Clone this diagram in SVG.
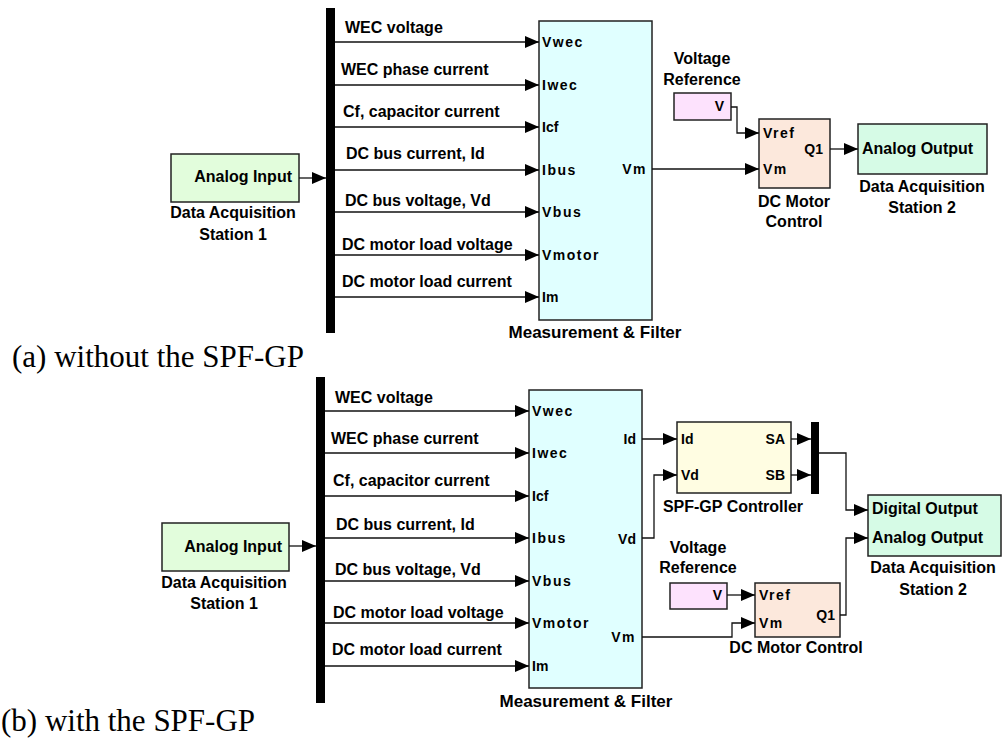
<svg xmlns="http://www.w3.org/2000/svg" width="1002" height="745" viewBox="0 0 1002 745">
  <defs>
    <marker id="arrow" markerUnits="userSpaceOnUse" markerWidth="15" markerHeight="13" refX="14" refY="6" orient="auto">
      <path d="M0,0 L14,6 L0,12 z" fill="#000"/>
    </marker>
    <style>
      .blk { stroke: #222; stroke-width: 1.5; }
      .bar { fill: #000; }
      .din { fill: #E2FDDC; }
      .dout { fill: #D6FBE6; }
      .meas { fill: #E0FFFF; }
      .vref { fill: #FDE2FD; }
      .motor { fill: #FCE8DC; }
      .spf { fill: #FFFDE2; }
      .wire { fill: none; stroke: #111; stroke-width: 1.3; }
      .arr { marker-end: url(#arrow); }
      text { font-family: "Liberation Sans", Arial, sans-serif; font-weight: bold; fill: #000; }
      .lbl { font-size: 16px; }
      .cap { font-size: 16px; text-anchor: middle; }
      .port { font-size: 14px; }
      .sp { letter-spacing: 1.5px; }
      .end { text-anchor: end; }
      .title { font-family: "Liberation Serif", "Times New Roman", serif; font-weight: normal; font-size: 31px; }
    </style>
  </defs>

  <!-- ===== (a) without the SPF-GP ===== -->
  <g id="a-daq1">
    <rect class="blk din" x="171" y="154" width="128" height="48"/>
    <text class="lbl end" x="292" y="182">Analog Input</text>
    <text class="cap" x="233" y="218">Data Acquisition</text>
    <text class="cap" x="233" y="240">Station 1</text>
  </g>
  <g id="a-bus">
    <rect class="bar" x="326" y="8" width="9" height="325"/>
  </g>
  <g id="a-meas">
    <rect class="blk meas" x="539" y="21" width="113" height="299"/>
    <text class="port sp" x="542" y="47">Vwec</text>
    <text class="port sp" x="542" y="90">Iwec</text>
    <text class="port" x="542" y="132">Icf</text>
    <text class="port sp" x="542" y="175">Ibus</text>
    <text class="port sp" x="542" y="217">Vbus</text>
    <text class="port sp" x="542" y="260">Vmotor</text>
    <text class="port" x="542" y="302">Im</text>
    <text class="port sp end" x="647" y="174">Vm</text>
    <text class="cap" x="595" y="338" style="font-size:17px">Measurement &amp; Filter</text>
  </g>
  <g id="a-vref">
    <text class="cap" x="702" y="64">Voltage</text>
    <text class="cap" x="702" y="85">Reference</text>
    <rect class="blk vref" x="674" y="93" width="57" height="27"/>
    <text class="port end" x="724" y="111">V</text>
  </g>
  <g id="a-motor">
    <rect class="blk motor" x="759" y="119" width="71" height="69"/>
    <text class="port sp" x="763" y="138">Vref</text>
    <text class="port sp" x="763" y="174">Vm</text>
    <text class="port end" x="823" y="154">Q1</text>
    <text class="cap" x="794" y="207">DC Motor</text>
    <text class="cap" x="794" y="227">Control</text>
  </g>
  <g id="a-daq2">
    <rect class="blk dout" x="858" y="124" width="129" height="50"/>
    <text class="lbl" x="862" y="154">Analog Output</text>
    <text class="cap" x="922" y="192">Data Acquisition</text>
    <text class="cap" x="922" y="213">Station 2</text>
  </g>
  <g id="a-labels">
    <text class="lbl" x="345" y="33">WEC voltage</text>
    <text class="lbl" x="341" y="75">WEC phase current</text>
    <text class="lbl" x="343" y="117">Cf, capacitor current</text>
    <text class="lbl" x="346" y="159">DC bus current, Id</text>
    <text class="lbl" x="345" y="206">DC bus voltage, Vd</text>
    <text class="lbl" x="342" y="250">DC motor load voltage</text>
    <text class="lbl" x="342" y="287">DC motor load current</text>
  </g>
  <g id="a-connectors">
    <path class="wire arr" d="M299,178 H326"/>
    <path class="wire arr" d="M335,42 H539"/>
    <path class="wire arr" d="M335,85 H539"/>
    <path class="wire arr" d="M335,127 H539"/>
    <path class="wire arr" d="M335,170 H539"/>
    <path class="wire arr" d="M335,212 H539"/>
    <path class="wire arr" d="M335,255 H539"/>
    <path class="wire arr" d="M335,297 H539"/>
    <path class="wire arr" d="M652,169 H759"/>
    <path class="wire arr" d="M731,107 H737 V133 H759"/>
    <path class="wire arr" d="M830,149 H858"/>
  </g>
  <text class="title" x="12" y="367">(a) without the SPF-GP</text>

  <!-- ===== (b) with the SPF-GP ===== -->
  <g id="b-daq1">
    <rect class="blk din" x="162" y="523" width="127" height="48"/>
    <text class="lbl end" x="282" y="552">Analog Input</text>
    <text class="cap" x="224" y="588">Data Acquisition</text>
    <text class="cap" x="224" y="609">Station 1</text>
  </g>
  <g id="b-bus">
    <rect class="bar" x="316" y="377" width="9" height="326"/>
  </g>
  <g id="b-meas">
    <rect class="blk meas" x="529" y="390" width="113" height="298"/>
    <text class="port sp" x="532" y="416">Vwec</text>
    <text class="port sp" x="532" y="458">Iwec</text>
    <text class="port" x="532" y="501">Icf</text>
    <text class="port sp" x="532" y="543">Ibus</text>
    <text class="port sp" x="532" y="586">Vbus</text>
    <text class="port sp" x="532" y="628">Vmotor</text>
    <text class="port" x="532" y="671">Im</text>
    <text class="port end" x="636" y="444">Id</text>
    <text class="port end" x="636" y="544">Vd</text>
    <text class="port sp end" x="636" y="642">Vm</text>
    <text class="cap" x="586" y="707" style="font-size:17px">Measurement &amp; Filter</text>
  </g>
  <g id="b-spf">
    <rect class="blk spf" x="677" y="422" width="114" height="71"/>
    <text class="port" x="681" y="444">Id</text>
    <text class="port" x="681" y="480">Vd</text>
    <text class="port end" x="785" y="444">SA</text>
    <text class="port end" x="785" y="480">SB</text>
    <text class="cap" x="733" y="512">SPF-GP Controller</text>
  </g>
  <g id="b-mux">
    <rect class="bar" x="811" y="422" width="8" height="72"/>
  </g>
  <g id="b-vref">
    <text class="cap" x="698" y="553">Voltage</text>
    <text class="cap" x="698" y="573">Reference</text>
    <rect class="blk vref" x="670" y="583" width="57" height="26"/>
    <text class="port end" x="722" y="600">V</text>
  </g>
  <g id="b-motor">
    <rect class="blk motor" x="755" y="583" width="85" height="54"/>
    <text class="port sp" x="759" y="600">Vref</text>
    <text class="port sp" x="759" y="628">Vm</text>
    <text class="port end" x="835" y="620">Q1</text>
    <text class="cap" x="796" y="653">DC Motor Control</text>
  </g>
  <g id="b-daq2">
    <rect class="blk dout" x="868" y="495" width="133" height="61"/>
    <text class="lbl" x="872" y="514">Digital Output</text>
    <text class="lbl" x="872" y="543">Analog Output</text>
    <text class="cap" x="933" y="573">Data Acquisition</text>
    <text class="cap" x="933" y="595">Station 2</text>
  </g>
  <g id="b-labels">
    <text class="lbl" x="335" y="403">WEC voltage</text>
    <text class="lbl" x="331" y="444">WEC phase current</text>
    <text class="lbl" x="333" y="486">Cf, capacitor current</text>
    <text class="lbl" x="336" y="530">DC bus current, Id</text>
    <text class="lbl" x="335" y="575">DC bus voltage, Vd</text>
    <text class="lbl" x="333" y="618">DC motor load voltage</text>
    <text class="lbl" x="332" y="655">DC motor load current</text>
  </g>
  <g id="b-connectors">
    <path class="wire arr" d="M289,546 H316"/>
    <path class="wire arr" d="M325,411 H529"/>
    <path class="wire arr" d="M325,453 H529"/>
    <path class="wire arr" d="M325,496 H529"/>
    <path class="wire arr" d="M325,538 H529"/>
    <path class="wire arr" d="M325,581 H529"/>
    <path class="wire arr" d="M325,623 H529"/>
    <path class="wire arr" d="M325,666 H529"/>
    <path class="wire arr" d="M642,439 H677"/>
    <path class="wire arr" d="M642,538 H654 V475 H677"/>
    <path class="wire arr" d="M791,439 H811"/>
    <path class="wire arr" d="M791,475 H811"/>
    <path class="wire arr" d="M819,453 H846 V510 H868"/>
    <path class="wire arr" d="M727,595 H755"/>
    <path class="wire arr" d="M642,637 H732 V623 H755"/>
    <path class="wire arr" d="M840,615 H846 V538 H868"/>
  </g>
  <text class="title" x="1" y="731">(b) with the SPF-GP</text>
</svg>
